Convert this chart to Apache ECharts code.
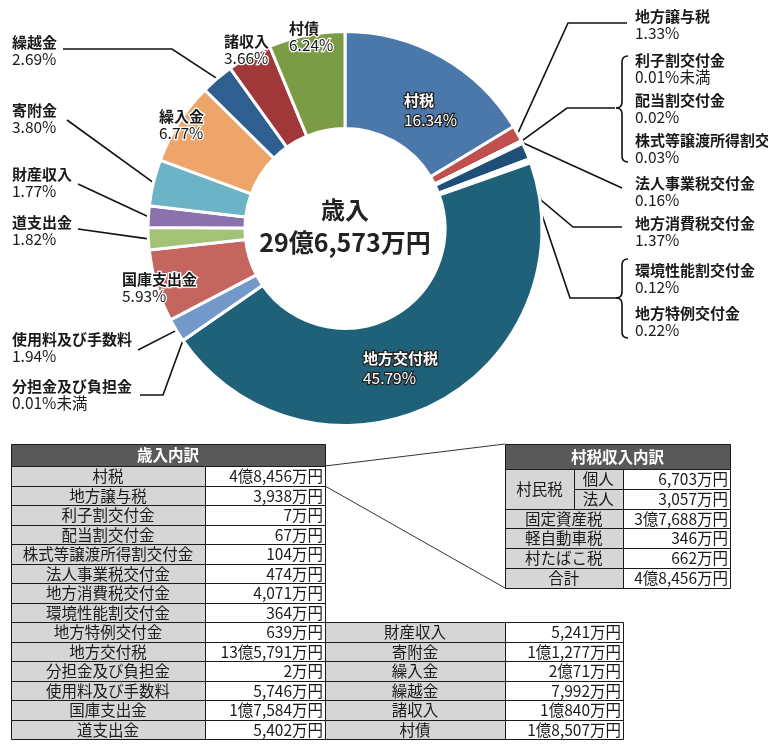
<!DOCTYPE html>
<html><head><meta charset="utf-8">
<script src="https://cdn.jsdelivr.net/npm/echarts@6/dist/echarts.min.js"></script>
<style>html,body{margin:0;padding:0;background:#fff}#c{width:768px;height:745px}</style>
</head><body><div id="c"></div>
<script>
// ---- data (万円) ----
const categories = ['村税','地方譲与税','利子割交付金','配当割交付金','株式等譲渡所得割交付金','法人事業税交付金','地方消費税交付金','環境性能割交付金','地方特例交付金','地方交付税','分担金及び負担金','使用料及び手数料','国庫支出金','道支出金','財産収入','寄附金','繰入金','繰越金','諸収入','村債'];
const values = [48456,3938,7,67,104,474,4071,364,639,135791,2,5746,17584,5402,5241,11277,20071,7992,10840,18507];
const pctLabels = ['16.34%','1.33%','0.01%未満','0.02%','0.03%','0.16%','1.37%','0.12%','0.22%','45.79%','0.01%未満','1.94%','5.93%','1.82%','1.77%','3.80%','6.77%','2.69%','3.66%','6.24%'];
const subGroup = '村民税';
const subCategories = ['個人','法人','固定資産税','軽自動車税','村たばこ税','合計'];
const subValues = [6703,3057,37688,346,662,48456];
const titleMain = '歳入';
const table1Title = '歳入内訳';
const table2Title = '村税収入内訳';

// ---- styles / layout ----
const FONT = "'Noto Sans CJK JP', sans-serif";
const palette = ['#4a78aa','#c0504d','#b8b8b8','#b8b8b8','#b8b8b8','#8aa0c0','#1f4e79','#9aaec8','#6a8ab0','#1f6178','#7f7f7f','#7399cb','#c4665f','#a2c275','#8b72ac','#6cb3c6','#eda56a','#2f5f91','#a0383a','#7b9b45'];
const LBL = {
  0:{x:404,y:91,s:'w'},
  1:{x:635,y:7.5,line:[[568,23],[627,23]]},
  2:{x:635,y:51.5},
  3:{x:635,y:91.5,line:[[567,108],[615,108]]},
  4:{x:635,y:131.5},
  5:{x:635,y:175,line:[[622,188]]},
  6:{x:635,y:214.5,line:[[541,200],[573,227],[622,227]]},
  7:{x:635,y:261.5,line:[[537,200],[570,298],[616,298]]},
  8:{x:635,y:305},
  9:{x:363,y:348.5,s:'w'},
  10:{x:12,y:377.5,line:[[163,395],[140,395]]},
  11:{x:12,y:330.5,line:[[138,350]]},
  12:{x:122,y:270.5,s:'d'},
  13:{x:12,y:213.5,line:[[78,229]]},
  14:{x:12,y:165.5,line:[[78,184]]},
  15:{x:12,y:101.5,line:[[67,120]]},
  16:{x:159,y:107.5,s:'d'},
  17:{x:12,y:33.5,line:[[172,49],[63,49]]},
  18:{x:224,y:33,s:'d'},
  19:{x:289,y:20,s:'d'}
};
const RICH = {
  n:{fontSize:15,fontWeight:'bold',lineHeight:17,color:'#1a1a1a',fontFamily:FONT},
  p:{fontSize:15.5,lineHeight:17,color:'#1a1a1a',fontFamily:FONT},
  nw:{fontSize:15,fontWeight:'bold',lineHeight:19.5,color:'#fff',textBorderColor:'#222',textBorderWidth:2.5,fontFamily:FONT},
  pw:{fontSize:15.5,lineHeight:19.5,color:'#fff',textBorderColor:'#222',textBorderWidth:2.5,fontFamily:FONT},
  nd:{fontSize:15,fontWeight:'bold',lineHeight:17,color:'#1a1a1a',textBorderColor:'#fff',textBorderWidth:2.5,fontFamily:FONT},
  pd:{fontSize:15.5,lineHeight:17,color:'#1a1a1a',textBorderColor:'#fff',textBorderWidth:2.5,fontFamily:FONT}
};

function fmt(v, sep){
  const oku = Math.floor(v/10000), man = v % 10000;
  let s = oku ? oku + '億' : '';
  if (man) s += man >= 1000 ? Math.floor(man/1000) + sep + String(man%1000).padStart(3,'0') : String(man);
  return s + '万円';
}
const total = values.reduce((a,b)=>a+b,0);

const data = categories.map((n,i)=>{
  const L = LBL[i];
  const k = L.s === 'w' ? ['nw','pw'] : L.s === 'd' ? ['nd','pd'] : ['n','p'];
  return {
    name: n, value: values[i],
    label: {position: L.s ? 'inside' : 'outside', formatter: '{' + k[0] + '|' + n + '}\n{' + k[1] + '|' + pctLabels[i] + '}'},
    labelLine: {show: !!L.line}
  };
});

// ---- graphic: centre text + tables ----
const G = [];
const px = v => Math.round(v) + 0.5;
function rect(x,y,w,h,fill){
  const x0=px(x), y0=px(y), x1=px(x+w), y1=px(y+h);
  G.push({type:'rect',shape:{x:x0,y:y0,width:x1-x0,height:y1-y0},style:{fill:fill,stroke:'#1a1a1a',lineWidth:1}});
}
function text(x,y,t,opt){
  G.push({type:'text',x:x,y:y,style:Object.assign({text:t,fill:'#1a1a1a',fontSize:15.5,fontFamily:FONT,align:'center',verticalAlign:'middle'},opt||{})});
}
function seg(x1,y1,x2,y2,w){ G.push({type:'line',shape:{x1,y1,x2,y2},style:{stroke:'#111',lineWidth:w}}); }
function curve(x1,y1,cx,cy,x2,y2){ G.push({type:'bezierCurve',shape:{x1,y1,x2,y2,cpx1:cx,cpy1:cy},style:{stroke:'#111',lineWidth:1.6,fill:null}}); }
function brace(x,top,mid,bot){
  curve(x+6,top,x,top,x,top+6); seg(x,top+6,x,mid-6,1.6); curve(x,mid-6,x,mid,x-6,mid);
  curve(x-6,mid,x,mid,x,mid+6); seg(x,mid+6,x,bot-6,1.6); curve(x,bot-6,x,bot,x+6,bot);
}
text(345,210,titleMain,{fontSize:24,fontWeight:'bold',fill:'#222'});
text(345,242,fmt(total, ','),{fontSize:25,fontWeight:'bold',fill:'#222'});

// table 1
const T1 = {x0:11,x1:205,x2:325,x3:505,x4:623,top:444,hh:22,rh:19.5};
const rowY = i => Math.round(T1.top + T1.hh + i*T1.rh);
rect(T1.x0,T1.top,T1.x2-T1.x0,T1.hh,'#595959');
text((T1.x0+T1.x2)/2,T1.top+T1.hh/2+0.5,table1Title,{fill:'#fff',fontWeight:'bold'});
const leftRows = 14;
categories.forEach((c,i)=>{
  let r, xa, xb, xc;
  if (i < leftRows){ r=i; xa=T1.x0; xb=T1.x1; xc=T1.x2; }
  else { r=i-leftRows+8; xa=T1.x2; xb=T1.x3; xc=T1.x4; }
  const y=rowY(r), h=rowY(r+1)-y;
  rect(xa,y,xb-xa,h,'#d6d6d6');
  rect(xb,y,xc-xb,h,'#fff');
  text((xa+xb)/2,y+h/2+0.5,c);
  text(xc-2,y+h/2+0.5,fmt(values[i],','),{align:'right'});
});

// table 2
const T2 = {x0:505,x1:574,x2:622.5,x3:730,top:444,hh:25,rh:19.83};
const rowY2 = i => Math.round(T2.top + T2.hh + i*T2.rh);
rect(T2.x0,T2.top,T2.x3-T2.x0,T2.hh,'#595959');
text((T2.x0+T2.x3)/2,T2.top+T2.hh/2+0.5,table2Title,{fill:'#fff',fontWeight:'bold'});
rect(T2.x0,rowY2(0),T2.x1-T2.x0,rowY2(2)-rowY2(0),'#d6d6d6');
text((T2.x0+T2.x1)/2,(rowY2(0)+rowY2(2))/2,subGroup);
subCategories.forEach((c,i)=>{
  const y=rowY2(i), h=rowY2(i+1)-y;
  if (i < 2){ rect(T2.x1,y,T2.x2-T2.x1,h,'#d6d6d6'); text((T2.x1+T2.x2)/2,y+h/2+0.5,c); }
  else { rect(T2.x0,y,T2.x2-T2.x0,h,'#d6d6d6'); text((T2.x0+T2.x2)/2,y+h/2+0.5,c); }
  rect(T2.x2,y,T2.x3-T2.x2,h,'#fff');
  text(T2.x3-2,y+h/2+0.5,fmt(subValues[i],','),{align:'right'});
});
// connectors
G.push({type:'line',shape:{x1:T1.x2,y1:rowY(0),x2:T2.x0,y2:T2.top},style:{stroke:'#333',lineWidth:1}});
G.push({type:'line',shape:{x1:T1.x2,y1:rowY(1),x2:T2.x0,y2:rowY2(6)},style:{stroke:'#333',lineWidth:1}});
// braces
brace(622,56,108,162);
brace(622,259,298,338);

const chart = echarts.init(document.getElementById('c'), null, {renderer:'canvas'});
chart.setOption({
  animation:false,
  backgroundColor:'#fff',
  color: palette,
  textStyle:{fontFamily:FONT},
  graphic:{elements:G},
  series:[{
    type:'pie',
    center:[345,228.5],
    radius:[100,197],
    startAngle:90,
    clockwise:true,
    avoidLabelOverlap:false,
    minShowLabelAngle:0,
    emphasis:{disabled:true},
    itemStyle:{borderColor:'#fff',borderWidth:3},
    label:{show:true,rich:RICH,fontFamily:FONT},
    labelLine:{show:true,length:10,length2:10,smooth:false,lineStyle:{color:'#111',width:1.6}},
    labelLayout:function(p){
      const L = LBL[p.dataIndex];
      if (!L) return {};
      const res = {x:L.x,y:L.y,align:'left',verticalAlign:'top'};
      if (L.line && p.labelLinePoints && p.labelLinePoints.length){
        res.labelLinePoints = [p.labelLinePoints[0]].concat(L.line);
      }
      return res;
    },
    data:data
  }]
});
</script></body></html>
